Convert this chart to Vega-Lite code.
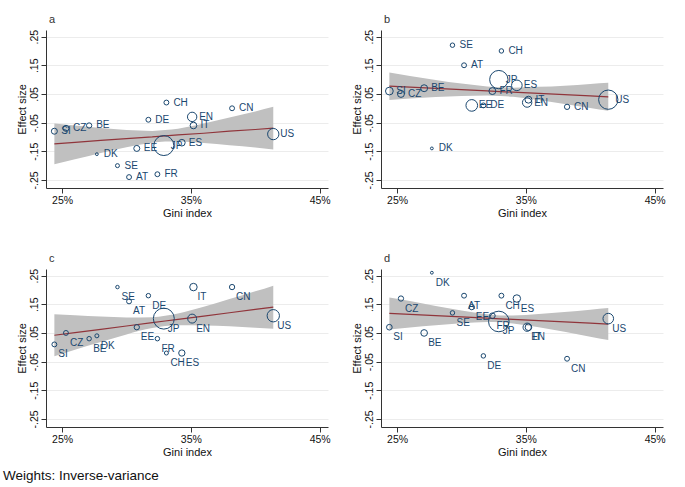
{
  "$schema": "https://vega.github.io/schema/vega-lite/v6.json",
  "padding": {"left": 3, "top": 14, "right": 5, "bottom": 4},
  "title": {"text": "Weights: Inverse-variance", "orient": "bottom", "anchor": "start", "frame": "bounds", "fontSize": 13.5, "fontWeight": "normal", "color": "#111", "offset": 11, "dx": -13},
  "datasets": {
    "pts": [
      {"panel":"a","country":"SI","gini":24.4,"eff":-0.08,"w":9},
      {"panel":"a","country":"CZ","gini":25.3,"eff":-0.07,"w":9},
      {"panel":"a","country":"BE","gini":27.1,"eff":-0.06,"w":7},
      {"panel":"a","country":"DK","gini":27.7,"eff":-0.16,"w":2},
      {"panel":"a","country":"SE","gini":29.3,"eff":-0.2,"w":4},
      {"panel":"a","country":"AT","gini":30.2,"eff":-0.24,"w":6},
      {"panel":"a","country":"EE","gini":30.8,"eff":-0.14,"w":9},
      {"panel":"a","country":"DE","gini":31.7,"eff":-0.04,"w":6},
      {"panel":"a","country":"FR","gini":32.4,"eff":-0.23,"w":6},
      {"panel":"a","country":"JP","gini":32.9,"eff":-0.13,"w":100},
      {"panel":"a","country":"CH","gini":33.1,"eff":0.02,"w":6},
      {"panel":"a","country":"ES","gini":34.3,"eff":-0.12,"w":11},
      {"panel":"a","country":"EN","gini":35.1,"eff":-0.03,"w":22},
      {"panel":"a","country":"IT","gini":35.2,"eff":-0.06,"w":11},
      {"panel":"a","country":"CN","gini":38.2,"eff":0.0,"w":6},
      {"panel":"a","country":"US","gini":41.4,"eff":-0.09,"w":32},
      {"panel":"b","country":"SI","gini":24.4,"eff":0.06,"w":15},
      {"panel":"b","country":"CZ","gini":25.3,"eff":0.05,"w":12},
      {"panel":"b","country":"BE","gini":27.1,"eff":0.07,"w":12},
      {"panel":"b","country":"DK","gini":27.7,"eff":-0.14,"w":2},
      {"panel":"b","country":"SE","gini":29.3,"eff":0.22,"w":5},
      {"panel":"b","country":"AT","gini":30.2,"eff":0.15,"w":6},
      {"panel":"b","country":"EE","gini":30.8,"eff":0.01,"w":34},
      {"panel":"b","country":"DE","gini":31.7,"eff":0.01,"w":6},
      {"panel":"b","country":"FR","gini":32.4,"eff":0.06,"w":12},
      {"panel":"b","country":"JP","gini":32.9,"eff":0.1,"w":84},
      {"panel":"b","country":"CH","gini":33.1,"eff":0.2,"w":5},
      {"panel":"b","country":"ES","gini":34.3,"eff":0.08,"w":28},
      {"panel":"b","country":"EN","gini":35.1,"eff":0.02,"w":22},
      {"panel":"b","country":"IT","gini":35.2,"eff":0.03,"w":12},
      {"panel":"b","country":"CN","gini":38.2,"eff":0.005,"w":7},
      {"panel":"b","country":"US","gini":41.4,"eff":0.03,"w":93},
      {"panel":"c","country":"SI","gini":24.4,"eff":0.01,"w":6},
      {"panel":"c","country":"CZ","gini":25.3,"eff":0.05,"w":6},
      {"panel":"c","country":"BE","gini":27.1,"eff":0.03,"w":5},
      {"panel":"c","country":"DK","gini":27.7,"eff":0.04,"w":4},
      {"panel":"c","country":"SE","gini":29.3,"eff":0.21,"w":3},
      {"panel":"c","country":"AT","gini":30.2,"eff":0.16,"w":6},
      {"panel":"c","country":"EE","gini":30.8,"eff":0.07,"w":7},
      {"panel":"c","country":"DE","gini":31.7,"eff":0.18,"w":5},
      {"panel":"c","country":"FR","gini":32.4,"eff":0.03,"w":5},
      {"panel":"c","country":"JP","gini":32.9,"eff":0.1,"w":110},
      {"panel":"c","country":"CH","gini":33.1,"eff":-0.02,"w":4},
      {"panel":"c","country":"ES","gini":34.3,"eff":-0.02,"w":10},
      {"panel":"c","country":"EN","gini":35.1,"eff":0.1,"w":20},
      {"panel":"c","country":"IT","gini":35.2,"eff":0.21,"w":14},
      {"panel":"c","country":"CN","gini":38.2,"eff":0.21,"w":7},
      {"panel":"c","country":"US","gini":41.4,"eff":0.11,"w":38},
      {"panel":"d","country":"SI","gini":24.4,"eff":0.07,"w":8},
      {"panel":"d","country":"CZ","gini":25.3,"eff":0.17,"w":7},
      {"panel":"d","country":"BE","gini":27.1,"eff":0.05,"w":11},
      {"panel":"d","country":"DK","gini":27.7,"eff":0.26,"w":2},
      {"panel":"d","country":"SE","gini":29.3,"eff":0.12,"w":5},
      {"panel":"d","country":"AT","gini":30.2,"eff":0.18,"w":6},
      {"panel":"d","country":"EE","gini":30.8,"eff":0.14,"w":7},
      {"panel":"d","country":"DE","gini":31.7,"eff":-0.03,"w":5},
      {"panel":"d","country":"FR","gini":32.4,"eff":0.11,"w":8},
      {"panel":"d","country":"JP","gini":32.9,"eff":0.09,"w":106},
      {"panel":"d","country":"CH","gini":33.1,"eff":0.18,"w":6},
      {"panel":"d","country":"ES","gini":34.3,"eff":0.17,"w":14},
      {"panel":"d","country":"EN","gini":35.1,"eff":0.07,"w":17},
      {"panel":"d","country":"IT","gini":35.2,"eff":0.07,"w":11},
      {"panel":"d","country":"CN","gini":38.2,"eff":-0.04,"w":6},
      {"panel":"d","country":"US","gini":41.4,"eff":0.1,"w":28}
    ],
    "fit": [
      {"panel":"a","gini":24.4,"fit":-0.124,"lo":-0.195,"hi":-0.053},
      {"panel":"a","gini":26,"fit":-0.119,"lo":-0.178,"hi":-0.060},
      {"panel":"a","gini":28,"fit":-0.112,"lo":-0.156,"hi":-0.069},
      {"panel":"a","gini":30,"fit":-0.106,"lo":-0.136,"hi":-0.076},
      {"panel":"a","gini":32,"fit":-0.100,"lo":-0.120,"hi":-0.079},
      {"panel":"a","gini":33,"fit":-0.096,"lo":-0.116,"hi":-0.076},
      {"panel":"a","gini":34,"fit":-0.093,"lo":-0.116,"hi":-0.071},
      {"panel":"a","gini":36,"fit":-0.087,"lo":-0.121,"hi":-0.053},
      {"panel":"a","gini":38,"fit":-0.080,"lo":-0.129,"hi":-0.032},
      {"panel":"a","gini":40,"fit":-0.074,"lo":-0.137,"hi":-0.011},
      {"panel":"a","gini":41.4,"fit":-0.069,"lo":-0.144,"hi":0.005},
      {"panel":"b","gini":24.4,"fit":0.077,"lo":0.029,"hi":0.125},
      {"panel":"b","gini":26,"fit":0.0735,"lo":0.034,"hi":0.113},
      {"panel":"b","gini":28,"fit":0.0692,"lo":0.039,"hi":0.099},
      {"panel":"b","gini":30,"fit":0.0648,"lo":0.043,"hi":0.086},
      {"panel":"b","gini":32,"fit":0.0605,"lo":0.045,"hi":0.076},
      {"panel":"b","gini":33,"fit":0.0583,"lo":0.043,"hi":0.073},
      {"panel":"b","gini":34,"fit":0.0561,"lo":0.040,"hi":0.072},
      {"panel":"b","gini":36,"fit":0.0518,"lo":0.029,"hi":0.075},
      {"panel":"b","gini":38,"fit":0.0474,"lo":0.015,"hi":0.079},
      {"panel":"b","gini":40,"fit":0.0431,"lo":0.001,"hi":0.085},
      {"panel":"b","gini":41.4,"fit":0.040,"lo":-0.009,"hi":0.089},
      {"panel":"c","gini":24.4,"fit":0.042,"lo":-0.031,"hi":0.115},
      {"panel":"c","gini":26,"fit":0.0512,"lo":-0.009,"hi":0.112},
      {"panel":"c","gini":28,"fit":0.0627,"lo":0.018,"hi":0.107},
      {"panel":"c","gini":30,"fit":0.0743,"lo":0.045,"hi":0.104},
      {"panel":"c","gini":32,"fit":0.0858,"lo":0.067,"hi":0.105},
      {"panel":"c","gini":33,"fit":0.0916,"lo":0.074,"hi":0.110},
      {"panel":"c","gini":34,"fit":0.0973,"lo":0.077,"hi":0.118},
      {"panel":"c","gini":36,"fit":0.1089,"lo":0.076,"hi":0.141},
      {"panel":"c","gini":38,"fit":0.1204,"lo":0.073,"hi":0.168},
      {"panel":"c","gini":40,"fit":0.1319,"lo":0.068,"hi":0.195},
      {"panel":"c","gini":41.4,"fit":0.140,"lo":0.065,"hi":0.215},
      {"panel":"d","gini":24.4,"fit":0.118,"lo":0.062,"hi":0.174},
      {"panel":"d","gini":26,"fit":0.1145,"lo":0.069,"hi":0.161},
      {"panel":"d","gini":28,"fit":0.1102,"lo":0.077,"hi":0.144},
      {"panel":"d","gini":30,"fit":0.1058,"lo":0.084,"hi":0.128},
      {"panel":"d","gini":32,"fit":0.1015,"lo":0.088,"hi":0.115},
      {"panel":"d","gini":33,"fit":0.0993,"lo":0.087,"hi":0.111},
      {"panel":"d","gini":34,"fit":0.0971,"lo":0.083,"hi":0.111},
      {"panel":"d","gini":36,"fit":0.0928,"lo":0.070,"hi":0.116},
      {"panel":"d","gini":38,"fit":0.0884,"lo":0.054,"hi":0.123},
      {"panel":"d","gini":40,"fit":0.0841,"lo":0.037,"hi":0.131},
      {"panel":"d","gini":41.4,"fit":0.081,"lo":0.025,"hi":0.137}
    ]
  },
  "columns": 2,
  "spacing": {"row": 34, "column": 20},
  "concat": [
    {
      "title": {"text": "a", "anchor": "start", "frame": "group", "fontSize": 11, "fontWeight": "normal", "color": "#333", "offset": 4, "dx": 3},
      "width": 282, "height": 158,
      "encoding": {
        "x": {"field": "gini", "type": "quantitative", "title": "Gini index", "scale": {"domain": [23.75, 45.65], "nice": false, "zero": false}, "axis": {"values": [25, 35, 45], "labelExpr": "datum.value + '%'", "grid": false}}
      },
      "layer": [
        {"data": {"name": "fit"}, "transform": [{"filter": "datum.panel === 'a'"}], "mark": {"type": "area", "color": "#c0c0c0", "interpolate": "monotone"},
         "encoding": {"y": {"field": "lo", "type": "quantitative", "title": "Effect size", "scale": {"domain": [-0.278, 0.273], "nice": false, "zero": false}, "axis": {"values": [-0.25, -0.15, -0.05, 0.05, 0.15, 0.25], "tickCount": 10, "labelExpr": "(datum.value < 0 ? '-' : '') + replace(format(abs(datum.value), '.2f'), '0.', '.')", "labelOverlap": false, "grid": true}}, "y2": {"field": "hi"}}},
        {"data": {"name": "fit"}, "transform": [{"filter": "datum.panel === 'a'"}], "mark": {"type": "line", "color": "#90353b", "strokeWidth": 1.2},
         "encoding": {"y": {"field": "fit", "type": "quantitative", "title": "Effect size"}}},
        {"data": {"name": "pts"}, "transform": [{"filter": "datum.panel === 'a'"}], "mark": {"type": "point", "shape": "circle", "filled": false, "color": "#1a476f", "strokeWidth": 1, "opacity": 1},
         "encoding": {"y": {"field": "eff", "type": "quantitative", "title": "Effect size"}, "size": {"field": "w", "type": "quantitative", "scale": {"domain": [0, 100], "range": [0, 400]}, "legend": null}}},
        {"data": {"name": "pts"}, "transform": [{"filter": "datum.panel === 'a'"}], "mark": {"type": "text", "align": "left", "baseline": "middle", "dx": 7, "dy": 0, "fontSize": 10, "color": "#1a476f"},
         "encoding": {"y": {"field": "eff", "type": "quantitative", "title": "Effect size"}, "text": {"field": "country"}}}
      ]
    },
    {
      "title": {"text": "b", "anchor": "start", "frame": "group", "fontSize": 11, "fontWeight": "normal", "color": "#333", "offset": 4, "dx": 3},
      "width": 282, "height": 158,
      "encoding": {
        "x": {"field": "gini", "type": "quantitative", "title": "Gini index", "scale": {"domain": [23.75, 45.65], "nice": false, "zero": false}, "axis": {"values": [25, 35, 45], "labelExpr": "datum.value + '%'", "grid": false}}
      },
      "layer": [
        {"data": {"name": "fit"}, "transform": [{"filter": "datum.panel === 'b'"}], "mark": {"type": "area", "color": "#c0c0c0", "interpolate": "monotone"},
         "encoding": {"y": {"field": "lo", "type": "quantitative", "title": "Effect size", "scale": {"domain": [-0.278, 0.273], "nice": false, "zero": false}, "axis": {"values": [-0.25, -0.15, -0.05, 0.05, 0.15, 0.25], "tickCount": 10, "labelExpr": "(datum.value < 0 ? '-' : '') + replace(format(abs(datum.value), '.2f'), '0.', '.')", "labelOverlap": false, "grid": true}}, "y2": {"field": "hi"}}},
        {"data": {"name": "fit"}, "transform": [{"filter": "datum.panel === 'b'"}], "mark": {"type": "line", "color": "#90353b", "strokeWidth": 1.2},
         "encoding": {"y": {"field": "fit", "type": "quantitative", "title": "Effect size"}}},
        {"data": {"name": "pts"}, "transform": [{"filter": "datum.panel === 'b'"}], "mark": {"type": "point", "shape": "circle", "filled": false, "color": "#1a476f", "strokeWidth": 1, "opacity": 1},
         "encoding": {"y": {"field": "eff", "type": "quantitative", "title": "Effect size"}, "size": {"field": "w", "type": "quantitative", "scale": {"domain": [0, 100], "range": [0, 400]}, "legend": null}}},
        {"data": {"name": "pts"}, "transform": [{"filter": "datum.panel === 'b'"}], "mark": {"type": "text", "align": "left", "baseline": "middle", "dx": 7, "dy": 0, "fontSize": 10, "color": "#1a476f"},
         "encoding": {"y": {"field": "eff", "type": "quantitative", "title": "Effect size"}, "text": {"field": "country"}}}
      ]
    },
    {
      "title": {"text": "c", "anchor": "start", "frame": "group", "fontSize": 11, "fontWeight": "normal", "color": "#333", "offset": 4, "dx": 3},
      "width": 282, "height": 158,
      "encoding": {
        "x": {"field": "gini", "type": "quantitative", "title": "Gini index", "scale": {"domain": [23.75, 45.65], "nice": false, "zero": false}, "axis": {"values": [25, 35, 45], "labelExpr": "datum.value + '%'", "grid": false}}
      },
      "layer": [
        {"data": {"name": "fit"}, "transform": [{"filter": "datum.panel === 'c'"}], "mark": {"type": "area", "color": "#c0c0c0", "interpolate": "monotone"},
         "encoding": {"y": {"field": "lo", "type": "quantitative", "title": "Effect size", "scale": {"domain": [-0.278, 0.273], "nice": false, "zero": false}, "axis": {"values": [-0.25, -0.15, -0.05, 0.05, 0.15, 0.25], "tickCount": 10, "labelExpr": "(datum.value < 0 ? '-' : '') + replace(format(abs(datum.value), '.2f'), '0.', '.')", "labelOverlap": false, "grid": true}}, "y2": {"field": "hi"}}},
        {"data": {"name": "fit"}, "transform": [{"filter": "datum.panel === 'c'"}], "mark": {"type": "line", "color": "#90353b", "strokeWidth": 1.2},
         "encoding": {"y": {"field": "fit", "type": "quantitative", "title": "Effect size"}}},
        {"data": {"name": "pts"}, "transform": [{"filter": "datum.panel === 'c'"}], "mark": {"type": "point", "shape": "circle", "filled": false, "color": "#1a476f", "strokeWidth": 1, "opacity": 1},
         "encoding": {"y": {"field": "eff", "type": "quantitative", "title": "Effect size"}, "size": {"field": "w", "type": "quantitative", "scale": {"domain": [0, 100], "range": [0, 400]}, "legend": null}}},
        {"data": {"name": "pts"}, "transform": [{"filter": "datum.panel === 'c'"}], "mark": {"type": "text", "align": "left", "baseline": "middle", "dx": 4, "dy": 10, "fontSize": 10, "color": "#1a476f"},
         "encoding": {"y": {"field": "eff", "type": "quantitative", "title": "Effect size"}, "text": {"field": "country"}}}
      ]
    },
    {
      "title": {"text": "d", "anchor": "start", "frame": "group", "fontSize": 11, "fontWeight": "normal", "color": "#333", "offset": 4, "dx": 3},
      "width": 282, "height": 158,
      "encoding": {
        "x": {"field": "gini", "type": "quantitative", "title": "Gini index", "scale": {"domain": [23.75, 45.65], "nice": false, "zero": false}, "axis": {"values": [25, 35, 45], "labelExpr": "datum.value + '%'", "grid": false}}
      },
      "layer": [
        {"data": {"name": "fit"}, "transform": [{"filter": "datum.panel === 'd'"}], "mark": {"type": "area", "color": "#c0c0c0", "interpolate": "monotone"},
         "encoding": {"y": {"field": "lo", "type": "quantitative", "title": "Effect size", "scale": {"domain": [-0.278, 0.273], "nice": false, "zero": false}, "axis": {"values": [-0.25, -0.15, -0.05, 0.05, 0.15, 0.25], "tickCount": 10, "labelExpr": "(datum.value < 0 ? '-' : '') + replace(format(abs(datum.value), '.2f'), '0.', '.')", "labelOverlap": false, "grid": true}}, "y2": {"field": "hi"}}},
        {"data": {"name": "fit"}, "transform": [{"filter": "datum.panel === 'd'"}], "mark": {"type": "line", "color": "#90353b", "strokeWidth": 1.2},
         "encoding": {"y": {"field": "fit", "type": "quantitative", "title": "Effect size"}}},
        {"data": {"name": "pts"}, "transform": [{"filter": "datum.panel === 'd'"}], "mark": {"type": "point", "shape": "circle", "filled": false, "color": "#1a476f", "strokeWidth": 1, "opacity": 1},
         "encoding": {"y": {"field": "eff", "type": "quantitative", "title": "Effect size"}, "size": {"field": "w", "type": "quantitative", "scale": {"domain": [0, 100], "range": [0, 400]}, "legend": null}}},
        {"data": {"name": "pts"}, "transform": [{"filter": "datum.panel === 'd'"}], "mark": {"type": "text", "align": "left", "baseline": "middle", "dx": 4, "dy": 10, "fontSize": 10, "color": "#1a476f"},
         "encoding": {"y": {"field": "eff", "type": "quantitative", "title": "Effect size"}, "text": {"field": "country"}}}
      ]
    }
  ],
  "config": {
    "font": "Liberation Sans",
    "view": {"stroke": null},
    "axis": {"domainColor": "#333", "tickColor": "#333", "labelColor": "#111", "titleColor": "#111", "labelFontSize": 10.5, "titleFontSize": 11, "titleFontWeight": "normal", "tickSize": 5, "gridColor": "#ececec", "gridWidth": 1, "labelPadding": 2},
    "axisX": {"titlePadding": 2},
    "axisY": {"titlePadding": 2, "tickCount": 10, "labelOverlap": false, "labelAngle": -90, "labelAlign": "center", "labelBaseline": "bottom"}
  }
}
